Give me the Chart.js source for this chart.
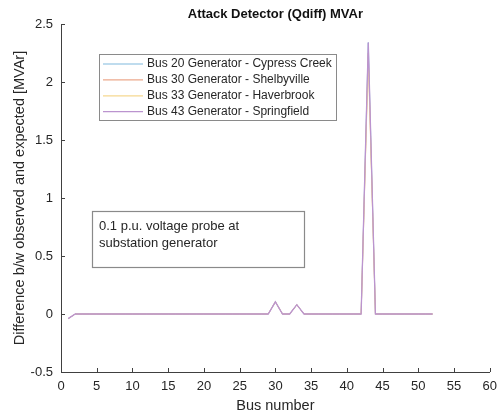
<!DOCTYPE html>
<html>
<head>
<meta charset="utf-8">
<script src="https://cdn.jsdelivr.net/npm/chart.js@4/dist/chart.umd.min.js"></script>
<style>
html,body{margin:0;padding:0;background:#fff;}
#wrap{position:relative;width:504px;height:418px;}
</style>
</head>
<body>
<div id="wrap"><canvas id="c" width="504" height="418"></canvas></div>
<script>
const busNumbers = Array.from({length: 52}, (_, i) => i + 1);
const seriesLabels = [
  'Bus 20 Generator - Cypress Creek',
  'Bus 30 Generator - Shelbyville',
  'Bus 33 Generator - Haverbrook',
  'Bus 43 Generator - Springfield'
];
const seriesColors = ['#80b9de', '#eca98c', '#f6d890', '#bb94cf'];
const base = [-0.04,0,0,0,0,0,0,0,0,0, 0,0,0,0,0,0,0,0,0,0, 0,0,0,0,0,0,0,0,0,0.105, 0,0,0.08,0,0,0,0,0,0,0, 0,0,0,0,0,0,0,0,0,0, 0,0];
const cypressCreek = base.slice(); cypressCreek[42] = 2.34;
const shelbyville = base.slice(); shelbyville[42] = 2.25;
const haverbrook = base.slice(); haverbrook[42] = 2.2;
const springfield = base.slice(); springfield[42] = 2.34;
const seriesValues = [cypressCreek, shelbyville, haverbrook, springfield];
const xTicks = [0,5,10,15,20,25,30,35,40,45,50,55,60];
const yTicks = [-0.5,0,0.5,1,1.5,2,2.5];
const titleText = 'Attack Detector (Qdiff) MVAr';
const xTitle = 'Bus number';
const yTitle = 'Difference b/w observed and expected [MVAr]';
const noteLines = ['0.1 p.u. voltage probe at', 'substation generator'];

const FONT = 'Arial, "Liberation Sans", sans-serif';
const AX = '#404040';

const datasets = seriesValues.map((vals, i) => ({
  label: seriesLabels[i],
  data: vals.map((v, j) => ({x: busNumbers[j], y: v})),
  borderColor: seriesColors[i],
  backgroundColor: seriesColors[i],
  borderWidth: i === seriesValues.length - 1 ? 1.3 : 1,
  pointRadius: 0,
  tension: 0,
  fill: false,
  order: seriesValues.length - 1 - i
}));

const deco = {
  id: 'deco',
  afterDatasetsDraw(chart) {
    const ctx = chart.ctx;
    const xs = chart.scales.x, ys = chart.scales.y;
    const a = chart.chartArea;
    ctx.save();
    ctx.strokeStyle = AX; ctx.lineWidth = 1;
    ctx.beginPath();
    xTicks.forEach(t => { const px = Math.round(xs.getPixelForValue(t)) + 0.5; ctx.moveTo(px, a.bottom); ctx.lineTo(px, a.bottom - 4); });
    yTicks.forEach(t => { const py = Math.round(ys.getPixelForValue(t)) + 0.5; ctx.moveTo(a.left, py); ctx.lineTo(a.left + 4, py); });
    ctx.stroke();
    ctx.fillStyle = '#111';
    ctx.font = 'bold 13px ' + FONT;
    ctx.textAlign = 'center'; ctx.textBaseline = 'middle';
    ctx.fillText(titleText, (a.left + a.right) / 2, 14);
    ctx.fillStyle = '#262626';
    ctx.font = '14.5px ' + FONT;
    ctx.fillText(xTitle, (a.left + a.right) / 2, 406);
    ctx.save();
    ctx.translate(20, (a.top + a.bottom) / 2);
    ctx.rotate(-Math.PI / 2);
    ctx.fillText(yTitle, 0, 0);
    ctx.restore();
    ctx.fillStyle = '#fff';
    ctx.fillRect(99.5, 54.5, 237, 66);
    ctx.strokeStyle = '#8a8a8a'; ctx.lineWidth = 1;
    ctx.strokeRect(99.5, 54.5, 237, 66);
    ctx.font = '12px ' + FONT;
    ctx.textAlign = 'left';
    chart.data.datasets.forEach((ds, i) => {
      const y = 64 + i * 15.9;
      ctx.strokeStyle = ds.borderColor; ctx.lineWidth = 1.2;
      ctx.beginPath(); ctx.moveTo(103, y); ctx.lineTo(143, y); ctx.stroke();
      ctx.fillStyle = '#262626';
      ctx.fillText(ds.label, 147, y);
    });
    ctx.fillStyle = '#fff';
    ctx.fillRect(92.5, 211.5, 212, 56);
    ctx.strokeStyle = '#8a8a8a';
    ctx.strokeRect(92.5, 211.5, 212, 56);
    ctx.fillStyle = '#262626';
    ctx.font = '13px ' + FONT;
    noteLines.forEach((l, i) => ctx.fillText(l, 99, 226 + i * 17));
    ctx.restore();
  }
};

new Chart(document.getElementById('c'), {
  type: 'line',
  data: { datasets },
  options: {
    responsive: false,
    animation: false,
    layout: { padding: { top: 24, right: 10, left: 0, bottom: 0 } },
    plugins: { legend: { display: false }, tooltip: { enabled: false }, title: { display: false } },
    scales: {
      x: {
        type: 'linear', min: 0, max: 60,
        afterBuildTicks: s => { s.ticks = xTicks.map(v => ({value: v})); },
        afterFit: s => { s.height = 46; },
        grid: { display: true, drawOnChartArea: false, drawTicks: false },
        border: { display: true, color: AX, width: 1 },
        ticks: { color: '#262626', font: { size: 13, family: FONT }, padding: 7, maxRotation: 0, callback: v => String(v) }
      },
      y: {
        type: 'linear', min: -0.5, max: 2.5,
        afterBuildTicks: s => { s.ticks = yTicks.map(v => ({value: v})); },
        afterFit: s => { s.width = 61; },
        grid: { display: true, drawOnChartArea: false, drawTicks: false },
        border: { display: true, color: AX, width: 1 },
        ticks: { color: '#262626', font: { size: 13, family: FONT }, padding: 8, callback: v => String(v) }
      }
    }
  },
  plugins: [deco]
});
</script>
</body>
</html>
